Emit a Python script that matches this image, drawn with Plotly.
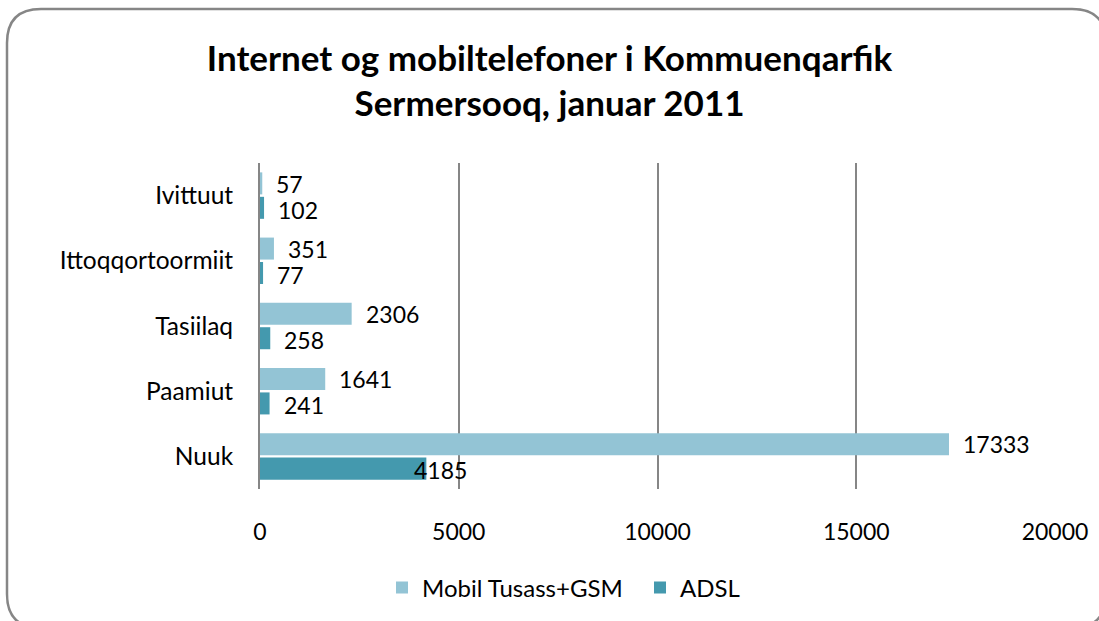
import plotly.graph_objects as go

categories = ["Nuuk", "Paamiut", "Tasiilaq", "Ittoqqortoormiit", "Ivittuut"]
mobil = [17333, 1641, 2306, 351, 57]
adsl = [4185, 241, 258, 77, 102]
series_names = ["Mobil Tusass+GSM", "ADSL"]
x_ticks = [0, 5000, 10000, 15000, 20000]
x_tick_text = ["0", "5000", "10000", "15000", "20000"]

W, H = 1099, 621
L, R, T, B = 260, 1055, 163, 489
FONT = "Lato"

def px(x):
    return (x - L) / (R - L)

def py(y):
    return (B - y) / (B - T)

fig = go.Figure()
fig.add_trace(go.Bar(y=categories, x=adsl, orientation="h", name=series_names[1],
                     marker=dict(color="#4499AE", line=dict(width=0))))
fig.add_trace(go.Bar(y=categories, x=mobil, orientation="h", name=series_names[0],
                     marker=dict(color="#93C4D5", line=dict(width=0))))

annotations = []
for c, v in zip(categories, mobil):
    annotations.append(dict(x=v, y=c, text=str(v), showarrow=False, xanchor="left",
                            xshift=12, yshift=12, font=dict(size=23, color="#000", family=FONT)))
for c, v in zip(categories, adsl):
    shift = -14 if v > 2000 else 12
    annotations.append(dict(x=v, y=c, text=str(v), showarrow=False, xanchor="left",
                            xshift=shift, yshift=-14, font=dict(size=23, color="#000", family=FONT)))

# rounded frame
x0, y0, x1, y1, r = 7, 9, 1106, 628, 34
path = (f"M {px(x0)},{py(y0 + r)} Q {px(x0)},{py(y0)} {px(x0 + r)},{py(y0)} "
        f"L {px(x1 - r)},{py(y0)} Q {px(x1)},{py(y0)} {px(x1)},{py(y0 + r)} "
        f"L {px(x1)},{py(y1 - r)} Q {px(x1)},{py(y1)} {px(x1 - r)},{py(y1)} "
        f"L {px(x0 + r)},{py(y1)} Q {px(x0)},{py(y1)} {px(x0)},{py(y1 - r)} Z")

fig.update_layout(
    width=W, height=H,
    margin=dict(l=L, r=W - R, t=T, b=H - B, autoexpand=False),
    paper_bgcolor="white", plot_bgcolor="white",
    barmode="group", bargap=0.25, bargroupgap=0.1,
    title=dict(text="Internet og mobiltelefoner i Kommuenqarfik<br>Sermersooq, januar 2011",
               x=0.5, xanchor="center", y=0.886, yanchor="middle",
               font=dict(family=FONT, size=35, color="#000", weight="bold")),
    xaxis=dict(range=[0, 20000], tickvals=x_ticks, ticktext=x_tick_text, showgrid=True,
               gridcolor="#868686", gridwidth=2, automargin=False,
               zeroline=False, showline=False, ticks="outside", ticklen=22, tickcolor="rgba(0,0,0,0)",
               tickfont=dict(family=FONT, size=23, color="#000"), fixedrange=True),
    yaxis=dict(showline=True, linecolor="#868686", linewidth=2, ticks="outside", ticklen=20,
               automargin=False,
               tickcolor="rgba(0,0,0,0)", tickfont=dict(family=FONT, size=24.5, color="#000"),
               showgrid=False),
    legend=dict(orientation="h", x=px(640), y=py(588), xanchor="center", yanchor="middle",
                traceorder="reversed", entrywidth=213, entrywidthmode="pixels",
                font=dict(family=FONT, size=24, color="#000")),
    annotations=annotations,
    shapes=[dict(type="path", path=path, xref="paper", yref="paper",
                 line=dict(color="#868686", width=2.5), layer="below")],
)

fig.write_html("out.html", config={"displayModeBar": False},
               post_script="document.body.style.margin='0';")
